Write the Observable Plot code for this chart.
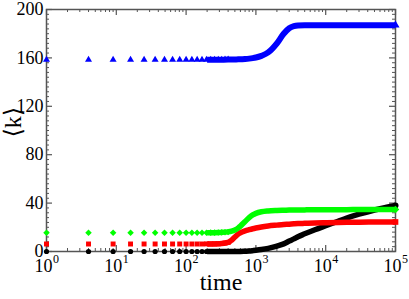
<!DOCTYPE html>
<html><head><meta charset="utf-8">
<script src="https://cdn.jsdelivr.net/npm/d3@7"></script>
<script src="https://cdn.jsdelivr.net/npm/@observablehq/plot@0.6"></script>
<style>
html,body{margin:0;padding:0;background:#fff}
svg{display:block}
svg text{font-family:"Liberation Serif","DejaVu Serif",serif !important}
</style>
</head><body><div id="chart"></div>
<script>
// ---- data ----
// sparse, individually visible markers (time = 1, 4, 9, 16, ...)
const sparseTimes = [1, 4, 9, 16, 25, 36, 49, 64, 81, 100, 121, 144, 169, 196, 225, 256, 289, 324, 361, 400];
const blackSparse = [0, 0, 0, 0, 0, 0, 0, 0, 0, 0, 0, 0, 0, 0, 0, 0, 0, 0, 0, 0];
const redSparse   = [6.2, 6.2, 6.2, 6.2, 6.2, 6.2, 6.2, 6.2, 6.2, 6.2, 6.2, 6.2, 6.2, 6.3, 6.3, 6.4, 6.4, 6.6, 7.0, 7.5];
const greenSparse = [15.5, 15.5, 15.5, 15.5, 15.5, 15.5, 15.5, 15.5, 15.5, 15.5, 15.5, 15.5, 15.5, 15.5, 15.6, 15.6, 15.7, 15.8, 16.0, 16.2];
const blueSparse  = [158.5, 158.5, 158.5, 158.5, 158.5, 158.5, 158.5, 158.5, 158.5, 158.5, 158.5, 158.5, 158.5, 158.5, 158.5, 158.5, 158.5, 158.5, 158.6, 158.6];

// dense part, where markers merge into a band
const denseTimes = [200, 300, 400, 450, 500, 560, 600, 700, 800, 900, 1000, 1200, 1500, 2000, 2500, 3000, 3500, 4000, 5000, 7000, 10000, 15000, 20000, 30000, 50000, 70000, 100000];
const blackDense = [0, 0, 0, 0, 0, 0, 0, 0.2, 0.4, 0.7, 1.0, 1.6, 2.6, 4.5, 6.3, 8.6, 10.4, 12.2, 14.6, 18.0, 21.3, 25.0, 27.6, 30.8, 34.3, 36.2, 38.0];
const redDense   = [6.2, 6.4, 7.5, 9.5, 12.0, 14.5, 15.5, 17.0, 18.0, 18.8, 19.4, 20.3, 21.1, 21.8, 22.3, 22.6, 22.9, 23.1, 23.3, 23.6, 23.8, 24.0, 24.1, 24.2, 24.3, 24.3, 24.4];
const greenDense = [15.5, 15.7, 16.2, 16.8, 17.8, 19.5, 21.0, 24.8, 28.0, 30.2, 31.5, 32.8, 33.5, 33.9, 34.1, 34.2, 34.3, 34.3, 34.4, 34.5, 34.5, 34.6, 34.6, 34.7, 34.7, 34.8, 34.8];
const blueDense  = [158.5, 158.5, 158.6, 158.6, 158.7, 158.8, 158.9, 159.1, 159.4, 159.8, 160.3, 161.7, 164.5, 172.0, 180.0, 184.5, 186.2, 186.8, 187.0, 187.0, 187.0, 187.0, 187.0, 187.0, 187.0, 187.0, 187.0];

// axes
const xMajorTicks = [1, 10, 100, 1000, 10000, 100000];
const xTickExponents = ["0", "1", "2", "3", "4", "5"];
const yMajorTicks = [0, 40, 80, 120, 160, 200];
const yMinorStep = 4;
const xLabel = "time";
const yLabel = "⟨k⟩";

// ---- layout ----
const W = 409, H = 299, mL = 46, mR = 14, mT = 9, mB = 48;
const fw = W - mL - mR, fh = H - mT - mB;
const frameColor = "#555";
const serif = "Liberation Serif";

const xMinorTicks = [];
for (let i = 0; i < xMajorTicks.length - 1; i++)
  for (let m = 2; m <= 9; m++) xMinorTicks.push(xMajorTicks[i] * m);
const yMinorTicks = d3.range(0, 200 + 1e-9, yMinorStep).filter(v => !yMajorTicks.includes(v));

const series = [
  {color: "#000000", symbol: "circle", r: 2.6, rot: 0, sw: 5.5, sparse: blackSparse, dense: blackDense},
  {color: "#ff0000", symbol: "square", r: 2.8, rot: 0, sw: 5.5, sparse: redSparse, dense: redDense},
  {color: "#00ff00", symbol: "square", r: 2.6, rot: 45, sw: 5.5, sparse: greenSparse, dense: greenDense},
  {color: "#0000ff", symbol: "triangle", r: 2.6, rot: 0, sw: 6, sparse: blueSparse, dense: blueDense}
];

const marks = [
  Plot.frame({stroke: frameColor, strokeWidth: 1.5}),
  // inward ticks on all four sides
  Plot.tickX(xMajorTicks, {x: d => d, stroke: frameColor, strokeWidth: 1.2, insetTop: fh - 6}),
  Plot.tickX(xMinorTicks, {x: d => d, stroke: frameColor, strokeWidth: 1, insetTop: fh - 3}),
  Plot.tickX(xMajorTicks, {x: d => d, stroke: frameColor, strokeWidth: 1.2, insetBottom: fh - 6}),
  Plot.tickX(xMinorTicks, {x: d => d, stroke: frameColor, strokeWidth: 1, insetBottom: fh - 3}),
  Plot.tickY(yMajorTicks, {y: d => d, stroke: frameColor, strokeWidth: 1.2, insetRight: fw - 6}),
  Plot.tickY(yMinorTicks, {y: d => d, stroke: frameColor, strokeWidth: 1, insetRight: fw - 3}),
  Plot.tickY(yMajorTicks, {y: d => d, stroke: frameColor, strokeWidth: 1.2, insetLeft: fw - 6}),
  Plot.tickY(yMinorTicks, {y: d => d, stroke: frameColor, strokeWidth: 1, insetLeft: fw - 3}),
  // tick labels
  Plot.text(yMajorTicks, {y: d => d, text: d => String(d), frameAnchor: "left", textAnchor: "end", dx: -3, dy: 0, fontSize: 18, fontFamily: serif, fill: "#000"}),
  Plot.text(xMajorTicks, {x: d => d, text: () => "10", frameAnchor: "bottom", dx: -3, dy: 20.5, fontSize: 18, fontFamily: serif, fill: "#000"}),
  Plot.text(xMajorTicks, {x: d => d, text: (d, i) => xTickExponents[i], frameAnchor: "bottom", textAnchor: "start", dx: 6.5, dy: 11, fontSize: 12, fontFamily: serif, fill: "#000"}),
  // axis titles
  Plot.text([xLabel], {text: d => d, frameAnchor: "bottom", dy: 38, fontSize: 24, fontFamily: serif, fill: "#000"}),
  Plot.text([yLabel], {text: d => d, frameAnchor: "left", dx: -33, dy: 7, rotate: -90, fontSize: 24, fontFamily: serif, fill: "#000"})
];

for (const s of series) {
  const dense = denseTimes.map((t, i) => ({t, v: s.dense[i]}));
  const sparse = sparseTimes.map((t, i) => ({t, v: s.sparse[i]}));
  marks.push(Plot.line(dense, {x: "t", y: "v", stroke: s.color, strokeWidth: s.sw, curve: "monotone-x", strokeLinecap: "butt"}));
  marks.push(Plot.dot(dense.slice(-1), {x: "t", y: "v", fill: s.color, symbol: s.symbol, rotate: s.rot, r: s.r + 0.4}));
  marks.push(Plot.dot(sparse, {x: "t", y: "v", fill: s.color, symbol: s.symbol, rotate: s.rot, r: s.r}));
}

const chart = Plot.plot({
  width: W, height: H,
  marginLeft: mL, marginRight: mR, marginTop: mT, marginBottom: mB,
  x: {type: "log", domain: [1, 100000], axis: null},
  y: {domain: [0, 200], axis: null},
  style: {background: "#fff", overflow: "visible"},
  marks
});
document.getElementById("chart").appendChild(chart);
</script>
</body></html>
